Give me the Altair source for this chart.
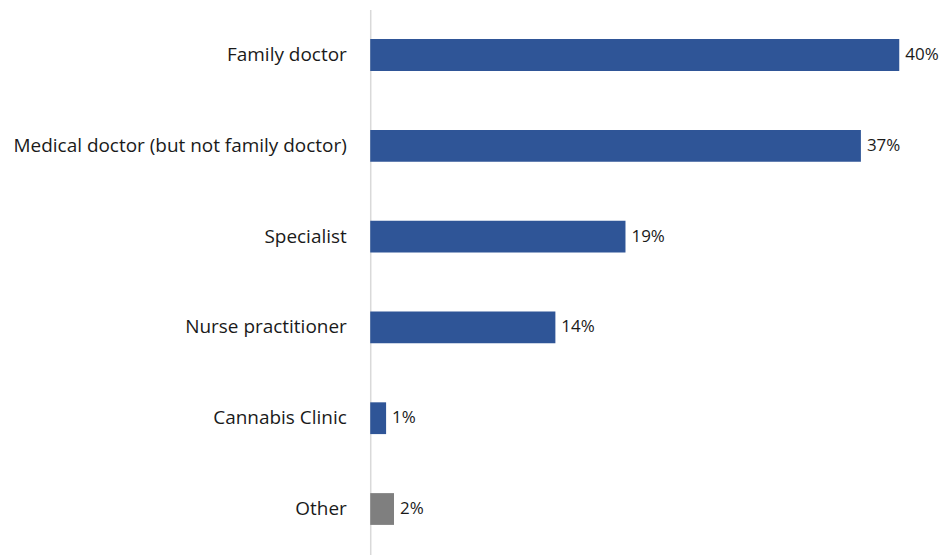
import altair as alt
import pandas as pd

categories = ["Family doctor", "Medical doctor (but not family doctor)", "Specialist",
              "Nurse practitioner", "Cannabis Clinic", "Other"]
values = [40, 37.1, 19.3, 14, 1.2, 1.8]
labels = ["40%", "37%", "19%", "14%", "1%", "2%"]
colors = ["#2F5597", "#2F5597", "#2F5597", "#2F5597", "#2F5597", "#7F7F7F"]

df = pd.DataFrame({"cat": categories, "val": values, "label": labels, "color": colors})

FONT = "Open Sans"

y = alt.Y("cat:N", sort=categories,
          scale=alt.Scale(paddingInner=0.65, paddingOuter=0.325),
          axis=alt.Axis(title=None, ticks=False, labelPadding=24, labelFontSize=19,
                        labelFont=FONT, labelColor="#1a1a1a", domainColor="#d9d9d9",
                        domainWidth=1.5, labelLimit=400))
x = alt.X("val:Q", scale=alt.Scale(domain=[0, 42.1], nice=False), axis=None)

base = alt.Chart(df)
bars = base.mark_bar().encode(x=x, y=y, color=alt.Color("color:N", scale=None))
text = base.mark_text(align="left", dx=6, fontSize=17, font=FONT, color="#1a1a1a").encode(
    x=x, y=y, text="label:N")

chart = (bars + text).properties(
    width=558, height=546,
    autosize=alt.AutoSizeParams(type="none"),
    padding={"left": 363, "top": 1, "right": 14, "bottom": 0},
).configure_view(stroke=None)

chart.save("out.html", embed_options={"renderer": "svg", "actions": False})
